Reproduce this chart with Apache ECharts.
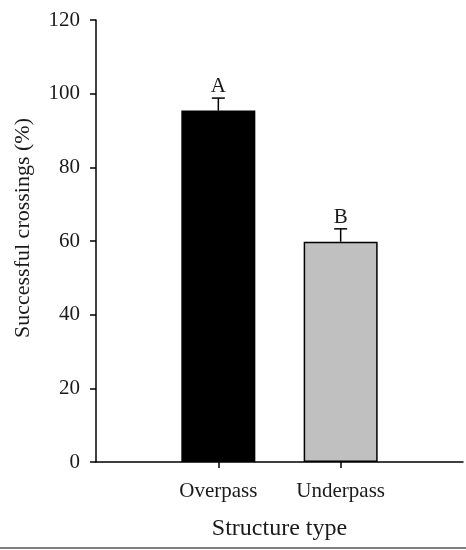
<!DOCTYPE html>
<html>
<head>
<meta charset="utf-8">
<script src="https://cdn.jsdelivr.net/npm/echarts@6/dist/echarts.min.js"></script>
<style>
html,body{margin:0;padding:0;background:#fff;}
#chart{width:466px;height:550px;}
</style>
</head>
<body>
<div id="chart"></div>
<script>
var categories = ['Overpass', 'Underpass'];
var values = [95.4, 59.8];
var errors = [3.4, 3.5];
var letters = ['A', 'B'];
var barColors = ['#000000', '#c0c0c0'];
var yTicks = [0, 20, 40, 60, 80, 100, 120];

var FONT = '"Liberation Serif", "Times New Roman", serif';
var axisCats = [''].concat(categories).concat(['']);
var barData = [null].concat(values.map(function (v, i) {
  return { value: v, itemStyle: { color: barColors[i] } };
})).concat([null]);
var errData = categories.map(function (c, i) {
  return [i + 1, values[i], errors[i], letters[i]];
});

var chart = echarts.init(document.getElementById('chart'), null, { renderer: 'canvas' });
chart.setOption({
  animation: false,
  backgroundColor: '#ffffff',
  grid: { left: 96, right: 0, top: 20, bottom: 88, containLabel: false },
  xAxis: {
    type: 'category',
    data: axisCats,
    boundaryGap: false,
    name: 'Structure type',
    nameLocation: 'middle',
    nameGap: 55,
    nameTextStyle: { fontFamily: FONT, fontSize: 24, color: '#1a1a1a' },
    axisLine: { lineStyle: { color: '#000', width: 1.5 } },
    axisTick: {
      show: true, length: 6, inside: false,
      lineStyle: { color: '#000', width: 1.5 },
      interval: function (idx, val) { return val !== ''; }
    },
    axisLabel: { interval: 0, margin: 19, fontFamily: FONT, fontSize: 21, color: '#1a1a1a' },
    splitLine: { show: false }
  },
  yAxis: {
    type: 'value',
    min: yTicks[0],
    max: yTicks[yTicks.length - 1],
    interval: yTicks[1] - yTicks[0],
    name: 'Successful crossings (%)',
    nameLocation: 'middle',
    nameGap: 62,
    nameTextStyle: { fontFamily: FONT, fontSize: 22, color: '#1a1a1a', padding: [0, 0, 0, 26] },
    axisLine: { show: true, lineStyle: { color: '#000', width: 1.5 } },
    axisTick: { show: true, length: 6, inside: false, lineStyle: { color: '#000', width: 1.5 } },
    axisLabel: { margin: 16, fontFamily: FONT, fontSize: 21, color: '#1a1a1a' },
    splitLine: { show: false }
  },
  series: [
    {
      type: 'bar',
      data: barData,
      barWidth: 74,
      itemStyle: { borderColor: '#000', borderWidth: 1.5 }
    },
    {
      type: 'custom',
      data: errData,
      z: 5,
      renderItem: function (params, api) {
        var x = api.value(0), v = api.value(1), e = api.value(2);
        var base = api.coord([x, v]);
        var top = api.coord([x, v + e]);
        var half = 6.5;
        var style = { stroke: '#000', lineWidth: 1.5 };
        return {
          type: 'group',
          children: [
            { type: 'line', shape: { x1: base[0], y1: base[1], x2: top[0], y2: top[1] }, style: style },
            { type: 'line', shape: { x1: top[0] - half, y1: top[1], x2: top[0] + half, y2: top[1] }, style: style },
            {
              type: 'text',
              style: {
                text: api.value(3),
                x: top[0], y: top[1] - 1,
                align: 'center', verticalAlign: 'bottom',
                font: '21px "Liberation Serif", "Times New Roman", serif',
                fill: '#1a1a1a'
              }
            }
          ]
        };
      }
    }
  ],
  graphic: [
    { type: 'line', shape: { x1: 0, y1: 548, x2: 466, y2: 548 }, style: { stroke: '#555', lineWidth: 1.5 } }
  ]
});
</script>
</body>
</html>
